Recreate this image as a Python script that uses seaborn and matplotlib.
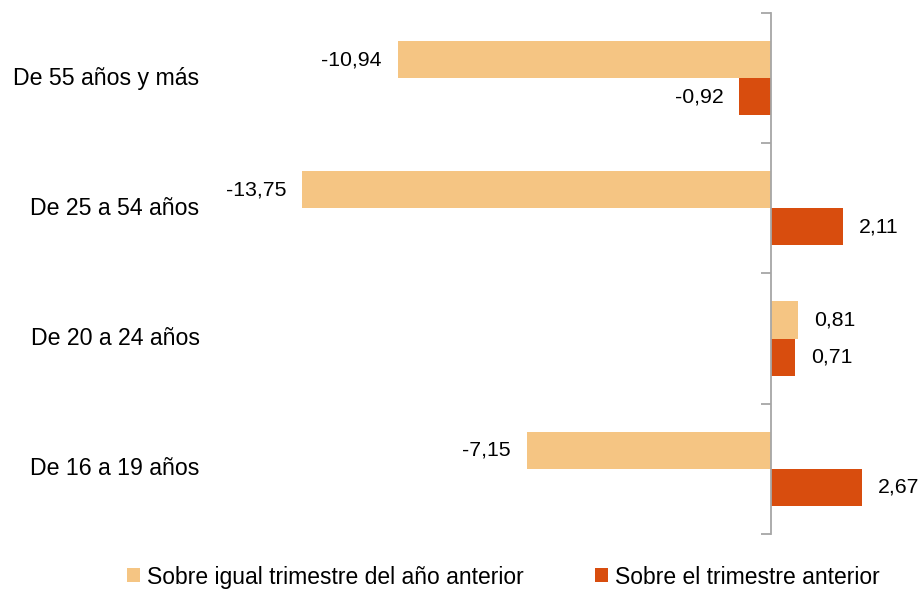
import matplotlib
matplotlib.use("Agg")
import matplotlib.pyplot as plt
import matplotlib.transforms as mtransforms
import seaborn as sns
import pandas as pd

# Data
grupos = ["De 55 años y más", "De 25 a 54 años", "De 20 a 24 años", "De 16 a 19 años"]
series = ["Sobre igual trimestre del año anterior", "Sobre el trimestre anterior"]
interanual = [-10.94, -13.75, 0.81, -7.15]
trimestral = [-0.92, 2.11, 0.71, 2.67]
colores = ["#F5C583", "#D84D0E"]

df = pd.DataFrame({
    "Grupo": grupos * 2,
    "Serie": [series[0]] * 4 + [series[1]] * 4,
    "Valor": interanual + trimestral,
})

sns.set_style("white")
plt.rcParams["font.family"] = ["Liberation Sans", "DejaVu Sans"]
plt.rcParams["text.color"] = "black"

fig = plt.figure(figsize=(9.22, 5.90), dpi=100)
ax = fig.add_axes([0.2278, 0.0949, 0.756, 0.8831])

sns.barplot(data=df, y="Grupo", x="Valor", hue="Serie", order=grupos,
            hue_order=series, palette=colores, width=0.57, linewidth=0,
            saturation=1, orient="h", ax=ax)

handles, labels = ax.get_legend_handles_labels()
ax.get_legend().remove()

def fmt(v):
    return f"{v:.2f}".replace(".", ",")

for cont, vals in zip(ax.containers, [interanual, trimestral]):
    ax.bar_label(cont, labels=[fmt(v) for v in vals], padding=11.5,
                 fontsize=15.3, color="black")

ax.set_xlim(-16.45, 4)
ax.set_ylim(3.5, -0.5)
ax.set_xlabel("")
ax.set_ylabel("")
ax.set_xticks([])

# axis line at zero with ticks between categories
for s in ["top", "right", "bottom"]:
    ax.spines[s].set_visible(False)
ax.spines["left"].set_position(("data", 0))
ax.spines["left"].set_color("#A6A6A6")
ax.spines["left"].set_linewidth(1.3)
ax.set_yticks([-0.5, 0.5, 1.5, 2.5, 3.5])
ax.set_yticklabels([])
ax.tick_params(axis="y", left=True, length=7, width=1.3, color="#A6A6A6",
               direction="out")

# category labels at the left of the plot area
trans = mtransforms.blended_transform_factory(ax.transAxes, ax.transData)
for i, g in enumerate(grupos):
    ax.text(-0.015, i, g, transform=trans, ha="right", va="center",
            fontsize=16.7, color="black")

fig.legend(handles, labels, loc="center", bbox_to_anchor=(0.546, 0.022),
           ncol=2, frameon=False, fontsize=16.5, handlelength=0.57,
           handleheight=0.57, handletextpad=0.3, columnspacing=3.1,
           labelcolor="black")

fig.savefig("out.png", dpi=100)
